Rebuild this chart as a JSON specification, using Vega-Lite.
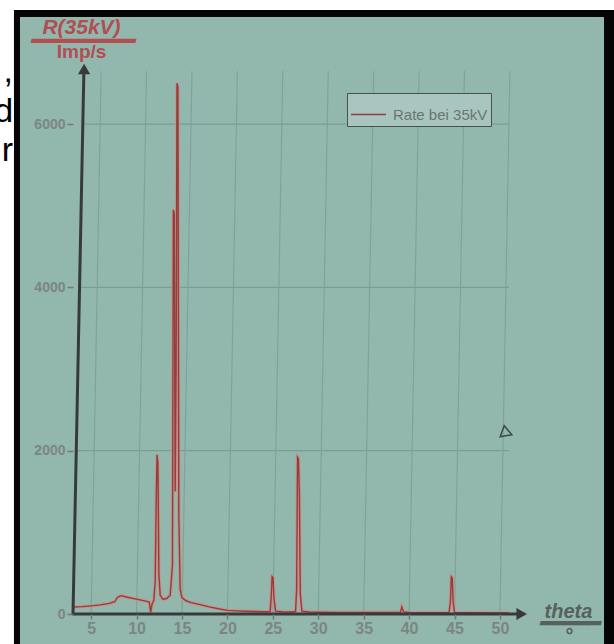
{
  "$schema": "https://vega.github.io/schema/vega-lite/v6.json",
  "width": 436,
  "height": 543,
  "autosize": {"type": "none"},
  "padding": {"left": 73, "top": 71, "right": 105, "bottom": 30},
  "background": "#ffffff",
  "config": {"view": {"stroke": null}, "font": "Liberation Sans"},
  "datasets": {
    "curve": [
      {"theta": 3.05, "rate": 85, "series": "Rate bei 35kV"},
      {"theta": 4, "rate": 90, "series": "Rate bei 35kV"},
      {"theta": 5, "rate": 100, "series": "Rate bei 35kV"},
      {"theta": 6, "rate": 112, "series": "Rate bei 35kV"},
      {"theta": 7, "rate": 130, "series": "Rate bei 35kV"},
      {"theta": 7.6, "rate": 150, "series": "Rate bei 35kV"},
      {"theta": 7.9, "rate": 205, "series": "Rate bei 35kV"},
      {"theta": 8.3, "rate": 225, "series": "Rate bei 35kV"},
      {"theta": 9, "rate": 205, "series": "Rate bei 35kV"},
      {"theta": 10, "rate": 182, "series": "Rate bei 35kV"},
      {"theta": 11, "rate": 158, "series": "Rate bei 35kV"},
      {"theta": 11.4, "rate": 145, "series": "Rate bei 35kV"},
      {"theta": 11.55, "rate": 20, "series": "Rate bei 35kV"},
      {"theta": 11.7, "rate": 120, "series": "Rate bei 35kV"},
      {"theta": 11.9, "rate": 170, "series": "Rate bei 35kV"},
      {"theta": 12.05, "rate": 400, "series": "Rate bei 35kV"},
      {"theta": 12.15, "rate": 1300, "series": "Rate bei 35kV"},
      {"theta": 12.25, "rate": 1950, "series": "Rate bei 35kV"},
      {"theta": 12.35, "rate": 1850, "series": "Rate bei 35kV"},
      {"theta": 12.45, "rate": 500, "series": "Rate bei 35kV"},
      {"theta": 12.6, "rate": 230, "series": "Rate bei 35kV"},
      {"theta": 12.9, "rate": 180, "series": "Rate bei 35kV"},
      {"theta": 13.3, "rate": 190, "series": "Rate bei 35kV"},
      {"theta": 13.7, "rate": 230, "series": "Rate bei 35kV"},
      {"theta": 13.95, "rate": 600, "series": "Rate bei 35kV"},
      {"theta": 14.05, "rate": 4950, "series": "Rate bei 35kV"},
      {"theta": 14.15, "rate": 4900, "series": "Rate bei 35kV"},
      {"theta": 14.25, "rate": 1500, "series": "Rate bei 35kV"},
      {"theta": 14.35, "rate": 3000, "series": "Rate bei 35kV"},
      {"theta": 14.45, "rate": 6500, "series": "Rate bei 35kV"},
      {"theta": 14.55, "rate": 6450, "series": "Rate bei 35kV"},
      {"theta": 14.65, "rate": 1200, "series": "Rate bei 35kV"},
      {"theta": 14.8, "rate": 300, "series": "Rate bei 35kV"},
      {"theta": 15.0, "rate": 200, "series": "Rate bei 35kV"},
      {"theta": 15.4, "rate": 165, "series": "Rate bei 35kV"},
      {"theta": 16, "rate": 140, "series": "Rate bei 35kV"},
      {"theta": 17, "rate": 115, "series": "Rate bei 35kV"},
      {"theta": 18, "rate": 88, "series": "Rate bei 35kV"},
      {"theta": 19, "rate": 65, "series": "Rate bei 35kV"},
      {"theta": 20, "rate": 45, "series": "Rate bei 35kV"},
      {"theta": 21, "rate": 38, "series": "Rate bei 35kV"},
      {"theta": 22, "rate": 33, "series": "Rate bei 35kV"},
      {"theta": 23, "rate": 30, "series": "Rate bei 35kV"},
      {"theta": 24, "rate": 28, "series": "Rate bei 35kV"},
      {"theta": 24.7, "rate": 30, "series": "Rate bei 35kV"},
      {"theta": 24.82, "rate": 200, "series": "Rate bei 35kV"},
      {"theta": 24.92, "rate": 460, "series": "Rate bei 35kV"},
      {"theta": 25.02, "rate": 450, "series": "Rate bei 35kV"},
      {"theta": 25.12, "rate": 200, "series": "Rate bei 35kV"},
      {"theta": 25.3, "rate": 35, "series": "Rate bei 35kV"},
      {"theta": 26, "rate": 28, "series": "Rate bei 35kV"},
      {"theta": 27, "rate": 25, "series": "Rate bei 35kV"},
      {"theta": 27.5, "rate": 30, "series": "Rate bei 35kV"},
      {"theta": 27.62, "rate": 300, "series": "Rate bei 35kV"},
      {"theta": 27.72, "rate": 1920, "series": "Rate bei 35kV"},
      {"theta": 27.82, "rate": 1900, "series": "Rate bei 35kV"},
      {"theta": 27.92, "rate": 1500, "series": "Rate bei 35kV"},
      {"theta": 28.02, "rate": 250, "series": "Rate bei 35kV"},
      {"theta": 28.2, "rate": 35, "series": "Rate bei 35kV"},
      {"theta": 29, "rate": 25, "series": "Rate bei 35kV"},
      {"theta": 30, "rate": 22, "series": "Rate bei 35kV"},
      {"theta": 32, "rate": 20, "series": "Rate bei 35kV"},
      {"theta": 35, "rate": 18, "series": "Rate bei 35kV"},
      {"theta": 38, "rate": 18, "series": "Rate bei 35kV"},
      {"theta": 39.05, "rate": 20, "series": "Rate bei 35kV"},
      {"theta": 39.2, "rate": 85, "series": "Rate bei 35kV"},
      {"theta": 39.4, "rate": 25, "series": "Rate bei 35kV"},
      {"theta": 40, "rate": 18, "series": "Rate bei 35kV"},
      {"theta": 42, "rate": 16, "series": "Rate bei 35kV"},
      {"theta": 44.4, "rate": 18, "series": "Rate bei 35kV"},
      {"theta": 44.55, "rate": 150, "series": "Rate bei 35kV"},
      {"theta": 44.65, "rate": 455, "series": "Rate bei 35kV"},
      {"theta": 44.75, "rate": 440, "series": "Rate bei 35kV"},
      {"theta": 44.85, "rate": 150, "series": "Rate bei 35kV"},
      {"theta": 45.0, "rate": 20, "series": "Rate bei 35kV"},
      {"theta": 47, "rate": 15, "series": "Rate bei 35kV"},
      {"theta": 50, "rate": 14, "series": "Rate bei 35kV"},
      {"theta": 51, "rate": 14, "series": "Rate bei 35kV"}
    ],
    "vgrid": [
      {"g": 5, "g2": 6.1}, {"g": 10, "g2": 11.1}, {"g": 15, "g2": 16.1}, {"g": 20, "g2": 21.1},
      {"g": 25, "g2": 26.1}, {"g": 30, "g2": 31.1}, {"g": 35, "g2": 36.1}, {"g": 40, "g2": 41.1},
      {"g": 45, "g2": 46.1}, {"g": 50, "g2": 51.1}
    ],
    "hgrid": [
      {"h": 2000, "xa": 3.4, "xb": 51}, {"h": 4000, "xa": 3.7, "xb": 51}, {"h": 6000, "xa": 4.1, "xb": 51}
    ],
    "frame": [{"x1": -3.5, "x2": 70, "y1": -900, "y2": 7397}],
    "screen": [{"x1": -2.835, "x2": 61.46, "y1": -900, "y2": 7311}],
    "arrows": [
      {"ax": 52.4, "ay": 0, "shape": "triangle-right"},
      {"ax": 4.22, "ay": 6675, "shape": "triangle-up"}
    ],
    "cursor": [{"cx": 50.78, "cy": 2217}],
    "unit": [{"ux": 3.94, "uy": 6809, "t": "Imp/s"}],
    "side": [
      {"sx": -3.6, "sy": 6515, "t": ","},
      {"sx": -3.6, "sy": 6025, "t": "d"},
      {"sx": -3.6, "sy": 5548, "t": "r"}
    ]
  },
  "layer": [
    {
      "data": {"name": "side"},
      "mark": {"type": "text", "align": "right", "baseline": "alphabetic", "fontSize": 34, "font": "Liberation Sans", "color": "#000000"},
      "encoding": {
        "x": {"field": "sx", "type": "quantitative", "scale": {"domain": [3, 51], "nice": false, "zero": false}},
        "y": {"field": "sy", "type": "quantitative", "scale": {"domain": [0, 6650], "nice": false, "zero": false}},
        "text": {"field": "t"}
      }
    },
    {
      "data": {"name": "frame"},
      "mark": {"type": "rect", "color": "#050505"},
      "encoding": {
        "x": {"field": "x1", "type": "quantitative", "scale": {"domain": [3, 51], "nice": false, "zero": false}},
        "x2": {"field": "x2"},
        "y": {"field": "y1", "type": "quantitative", "scale": {"domain": [0, 6650], "nice": false, "zero": false}},
        "y2": {"field": "y2"}
      }
    },
    {
      "data": {"name": "screen"},
      "mark": {"type": "rect", "color": "#92b7ad"},
      "encoding": {
        "x": {"field": "x1", "type": "quantitative", "scale": {"domain": [3, 51], "nice": false, "zero": false}},
        "x2": {"field": "x2"},
        "y": {"field": "y1", "type": "quantitative", "scale": {"domain": [0, 6650], "nice": false, "zero": false}},
        "y2": {"field": "y2"}
      }
    },
    {
      "data": {"name": "vgrid"},
      "mark": {"type": "rule", "color": "#80a399", "strokeWidth": 1.2},
      "encoding": {
        "x": {"field": "g", "type": "quantitative", "scale": {"domain": [3, 51], "nice": false, "zero": false}},
        "x2": {"field": "g2"},
        "y": {"datum": 0, "type": "quantitative", "scale": {"domain": [0, 6650], "nice": false, "zero": false}},
        "y2": {"datum": 6650}
      }
    },
    {
      "data": {"name": "hgrid"},
      "mark": {"type": "rule", "color": "#7a9e95", "strokeWidth": 1.3},
      "encoding": {
        "x": {"field": "xa", "type": "quantitative", "scale": {"domain": [3, 51], "nice": false, "zero": false}},
        "x2": {"field": "xb"},
        "y": {"field": "h", "type": "quantitative", "scale": {"domain": [0, 6650], "nice": false, "zero": false}}
      }
    },
    {
      "data": {"name": "curve"},
      "mark": {"type": "line", "color": "#d08c87", "strokeWidth": 3.4, "opacity": 0.85},
      "encoding": {
        "x": {"field": "theta", "type": "quantitative", "scale": {"domain": [3, 51], "nice": false, "zero": false}},
        "y": {"field": "rate", "type": "quantitative", "scale": {"domain": [0, 6650], "nice": false, "zero": false}}
      }
    },
    {
      "data": {"name": "curve"},
      "mark": {"type": "line", "strokeWidth": 1.4},
      "encoding": {
        "x": {
          "field": "theta", "type": "quantitative",
          "scale": {"domain": [3, 51], "nice": false, "zero": false},
          "axis": {
            "zindex": 2,
            "values": [5, 10, 15, 20, 25, 30, 35, 40, 45, 50],
            "format": "d",
            "domain": false,
            "grid": false,
            "tickSize": 5,
            "tickColor": "#6f7a77",
            "tickWidth": 1.5,
            "labelColor": "#7b8683",
            "labelFont": "Liberation Sans",
            "labelFontSize": 16,
            "labelFontWeight": "bold",
            "labelPadding": 1,
            "title": ["theta", "━━━━━", "°"],
            "titleX": 495,
            "titleY": 3,
            "titleAngle": 0,
            "titleAlign": "center",
            "titleBaseline": "alphabetic",
            "titleFont": "Liberation Sans",
            "titleFontSize": 20,
            "titleFontStyle": "italic",
            "titleFontWeight": "bold",
            "titleColor": "#56615e",
            "titleLineHeight": 12
          }
        },
        "y": {
          "field": "rate", "type": "quantitative",
          "scale": {"domain": [0, 6650], "nice": false, "zero": false},
          "axis": {
            "zindex": 2,
            "title": ["R(35kV)", "━━━━━━━━"],
            "titleX": 8,
            "titleY": -38,
            "titleAngle": 0,
            "titleAlign": "center",
            "titleBaseline": "alphabetic",
            "titleFont": "Liberation Sans",
            "titleFontSize": 21,
            "titleFontStyle": "italic",
            "titleFontWeight": "bold",
            "titleColor": "#b24d52",
            "titleLineHeight": 14,
            "values": [0, 2000, 4000, 6000],
            "format": "d",
            "domain": false,
            "grid": false,
            "tickSize": 6,
            "tickColor": "#6f7a77",
            "tickWidth": 1.5,
            "labelColor": "#7b8683",
            "labelFont": "Liberation Sans",
            "labelFontSize": 14,
            "labelFontWeight": "bold",
            "labelPadding": 2
          }
        },
        "color": {
          "field": "series", "type": "nominal",
          "scale": {"range": ["#913f3d"]},
          "legend": {
            "zindex": 2,
            "orient": "none",
            "legendX": 274,
            "legendY": 22,
            "title": null,
            "symbolType": "stroke",
            "symbolSize": 1225,
            "symbolStrokeWidth": 1.5,
            "symbolStrokeColor": "#5e4d4c",
            "labelFont": "Liberation Sans",
            "labelFontSize": 15,
            "labelColor": "#6b7572",
            "labelOffset": 6,
            "fillColor": "#a9c5bf",
            "strokeColor": "#4a504e",
            "padding": 3,
            "cornerRadius": 0
          }
        }
      }
    },
    {
      "data": {"values": [{"a": 2.9, "b": 52.3}]},
      "mark": {"type": "rule", "color": "#383a39", "strokeWidth": 3},
      "encoding": {
        "x": {"field": "a", "type": "quantitative", "scale": {"domain": [3, 51], "nice": false, "zero": false}},
        "x2": {"field": "b"},
        "y": {"datum": 0, "type": "quantitative", "scale": {"domain": [0, 6650], "nice": false, "zero": false}}
      }
    },
    {
      "data": {"values": [{"a": 3.0, "b": 4.2, "c": 0, "d": 6660}]},
      "mark": {"type": "rule", "color": "#383a39", "strokeWidth": 3},
      "encoding": {
        "x": {"field": "a", "type": "quantitative", "scale": {"domain": [3, 51], "nice": false, "zero": false}},
        "x2": {"field": "b"},
        "y": {"field": "c", "type": "quantitative", "scale": {"domain": [0, 6650], "nice": false, "zero": false}},
        "y2": {"field": "d"}
      }
    },
    {
      "data": {"name": "arrows"},
      "mark": {"type": "point", "filled": true, "color": "#383a39", "size": 150, "opacity": 1},
      "encoding": {
        "x": {"field": "ax", "type": "quantitative", "scale": {"domain": [3, 51], "nice": false, "zero": false}},
        "y": {"field": "ay", "type": "quantitative", "scale": {"domain": [0, 6650], "nice": false, "zero": false}},
        "shape": {"field": "shape", "type": "nominal", "scale": null}
      }
    },
    {
      "data": {"name": "cursor"},
      "mark": {"type": "point", "shape": "triangle-right", "filled": false, "color": "#3d4a47", "strokeWidth": 1.5, "size": 140, "angle": 20, "opacity": 1},
      "encoding": {
        "x": {"field": "cx", "type": "quantitative", "scale": {"domain": [3, 51], "nice": false, "zero": false}},
        "y": {"field": "cy", "type": "quantitative", "scale": {"domain": [0, 6650], "nice": false, "zero": false}}
      }
    },
    {
      "data": {"name": "unit"},
      "mark": {"type": "text", "align": "center", "baseline": "alphabetic", "fontSize": 19, "fontWeight": "bold", "font": "Liberation Sans", "color": "#b24d52"},
      "encoding": {
        "x": {"field": "ux", "type": "quantitative", "scale": {"domain": [3, 51], "nice": false, "zero": false}},
        "y": {"field": "uy", "type": "quantitative", "scale": {"domain": [0, 6650], "nice": false, "zero": false}},
        "text": {"field": "t"}
      }
    }
  ]
}
